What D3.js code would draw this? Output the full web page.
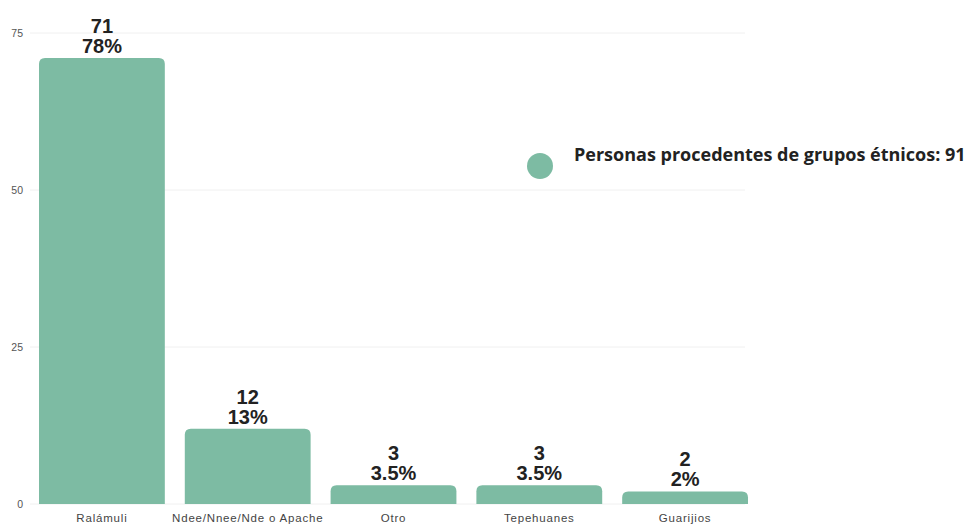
<!DOCTYPE html>
<html>
<head>
<meta charset="utf-8">
<script src="https://cdn.jsdelivr.net/npm/d3@7"></script>
<style>
  body { margin: 0; background: #fff; }
  svg { display: block; }
</style>
</head>
<body>
<svg id="chart" width="977" height="525"></svg>
<script>
const categories = ['Ralámuli', 'Ndee/Nnee/Nde o Apache', 'Otro', 'Tepehuanes', 'Guarijios'];
const counts = [71, 12, 3, 3, 2];
const percents = ['78%', '13%', '3.5%', '3.5%', '2%'];
const yTicks = [0, 25, 50, 75];
const legendLabel = 'Personas procedentes de grupos étnicos: 91';

const width = 977, height = 525;
const margin = { top: 33, right: 229, bottom: 21, left: 39 };
const barColor = '#7dbba3';

const svg = d3.select('#chart');

const x = d3.scaleBand()
    .domain(categories)
    .range([margin.left, width - margin.right])
    .paddingInner(0.137)
    .paddingOuter(0);

const y = d3.scaleLinear()
    .domain([0, 75])
    .range([height - margin.bottom, margin.top]);

/* gridlines */
svg.append('g')
    .selectAll('line')
    .data(yTicks)
    .enter().append('line')
    .attr('x1', 30)
    .attr('x2', width - margin.right - 3)
    .attr('y1', d => y(d))
    .attr('y2', d => y(d))
    .attr('stroke', '#f0f0f0')
    .attr('stroke-width', 1);

/* y axis */
const yAxis = d3.axisLeft(y).tickValues(yTicks).tickSize(0).tickPadding(8);
svg.append('g')
    .attr('transform', `translate(31, 0)`)
    .call(yAxis)
    .call(g => g.select('.domain').remove())
    .call(g => g.selectAll('text')
        .style('font-family', 'Liberation Sans, Arial, sans-serif')
        .style('font-size', '10.5px')
        .attr('fill', '#555'));

/* x axis */
const xAxis = d3.axisBottom(x).tickSize(0).tickPadding(10);
svg.append('g')
    .attr('transform', `translate(0, ${height - margin.bottom})`)
    .call(xAxis)
    .call(g => g.select('.domain').remove())
    .call(g => g.selectAll('text')
        .style('font-family', 'Liberation Sans, Arial, sans-serif')
        .style('font-size', '11.5px')
        .style('letter-spacing', '0.8px')
        .attr('fill', '#444'));

/* bars with rounded tops */
function topRounded(x0, y0, w, h, r) {
    r = Math.min(r, h, w / 2);
    return `M${x0},${y0 + h}V${y0 + r}Q${x0},${y0} ${x0 + r},${y0}` +
        `H${x0 + w - r}Q${x0 + w},${y0} ${x0 + w},${y0 + r}V${y0 + h}Z`;
}

svg.append('g')
    .selectAll('path')
    .data(categories)
    .enter().append('path')
    .attr('d', (d, i) => topRounded(x(d), y(counts[i]), x.bandwidth(), y(0) - y(counts[i]), 6))
    .attr('fill', barColor);

/* value labels */
const labels = svg.append('g')
    .style('font-family', 'Liberation Sans, Arial, sans-serif')
    .style('font-weight', 'bold')
    .style('font-size', '20px')
    .attr('fill', '#222')
    .attr('text-anchor', 'middle');

labels.selectAll('.count')
    .data(categories)
    .enter().append('text')
    .attr('class', 'count')
    .attr('x', d => x(d) + x.bandwidth() / 2)
    .attr('y', (d, i) => y(counts[i]) - 25)
    .text((d, i) => counts[i]);

labels.selectAll('.pct')
    .data(categories)
    .enter().append('text')
    .attr('class', 'pct')
    .attr('x', d => x(d) + x.bandwidth() / 2)
    .attr('y', (d, i) => y(counts[i]) - 5)
    .text((d, i) => percents[i]);

/* legend */
const legend = svg.append('g').attr('transform', 'translate(540, 166)');
legend.append('circle')
    .attr('r', 13)
    .attr('fill', barColor);
legend.append('text')
    .attr('x', 34)
    .attr('y', -5)
    .style('font-family', 'Open Sans, sans-serif')
    .style('font-weight', 'bold')
    .style('font-size', '18px')
    .attr('fill', '#222')
    .text(legendLabel);
</script>
</body>
</html>
